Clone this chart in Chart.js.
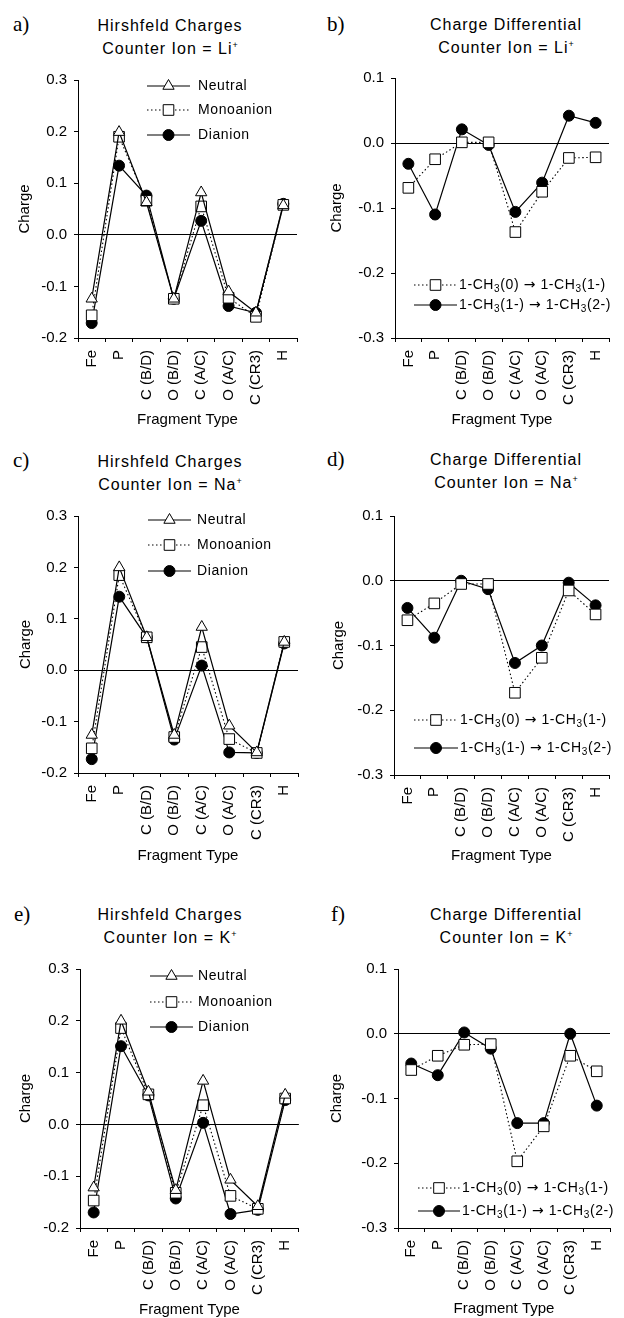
<!DOCTYPE html>
<html>
<head>
<meta charset="utf-8">
<script src="https://cdn.jsdelivr.net/npm/chart.js@4.4.1/dist/chart.umd.min.js"></script>
<style>
  html, body { margin: 0; padding: 0; background: #fff; overflow: hidden; }
  body { width: 624px; height: 1318px; position: relative; font-family: "Liberation Sans", Arial, sans-serif; color: #000; }
  canvas { position: absolute; }
  .tag { position: absolute; font-family: "Liberation Serif", "Times New Roman", serif; font-size: 21px; line-height: 20px; }
  .ttl { position: absolute; width: 260px; text-align: center; font-size: 16px; letter-spacing: 1px; line-height: 23px; }
  .ttl sup { font-size: 9px; vertical-align: 6px; line-height: 0; letter-spacing: 0; }
</style>
</head>
<body>
<div class="tag" style="left:13px;top:14px">a)</div>
<div class="tag" style="left:327px;top:14px">b)</div>
<div class="tag" style="left:13px;top:450px">c)</div>
<div class="tag" style="left:327px;top:449px">d)</div>
<div class="tag" style="left:14px;top:904px">e)</div>
<div class="tag" style="left:331px;top:904px">f)</div>

<div class="ttl" style="left:40px;top:14px">Hirshfeld Charges<br>Counter Ion = Li<sup>+</sup></div>
<div class="ttl" style="left:376px;top:13px">Charge Differential<br>Counter Ion = Li<sup>+</sup></div>
<div class="ttl" style="left:40px;top:450px">Hirshfeld Charges<br>Counter Ion = Na<sup>+</sup></div>
<div class="ttl" style="left:376px;top:448px">Charge Differential<br>Counter Ion = Na<sup>+</sup></div>
<div class="ttl" style="left:40px;top:903px">Hirshfeld Charges<br>Counter Ion = K<sup>+</sup></div>
<div class="ttl" style="left:376px;top:903px">Charge Differential<br>Counter Ion = K<sup>+</sup></div>

<canvas id="pa"></canvas>
<canvas id="pb"></canvas>
<canvas id="pc"></canvas>
<canvas id="pd"></canvas>
<canvas id="pe"></canvas>
<canvas id="pf"></canvas>

<script>
// ===== DATA =====
const fragments = ['Fe', 'P', 'C (B/D)', 'O (B/D)', 'C (A/C)', 'O (A/C)', 'C (CR3)', 'H'];
const chargeTicks = [-0.2, -0.1, 0.0, 0.1, 0.2, 0.3];
const diffTicks = [-0.3, -0.2, -0.1, 0.0, 0.1];
const hirshLabels = ['Neutral', 'Monoanion', 'Dianion'];
const diffLabels = ['1-CH_3(0) \u2192 1-CH_3(1-)', '1-CH_3(1-) \u2192 1-CH_3(2-)'];

// a) Li+
const neutralLi = [-0.124, 0.199, 0.063, -0.124, 0.082, -0.110, -0.151, 0.057];
const monoLi    = [-0.156, 0.190, 0.066, -0.124, 0.055, -0.122, -0.159, 0.058];
const dianLi    = [-0.171, 0.134, 0.076, -0.124, 0.027, -0.138, -0.151, 0.060];
// b) Li+ differential
const diffMonoLi = [-0.069, -0.025, 0.001, 0.001, -0.137, -0.075, -0.023, -0.022];
const diffDianLi = [-0.032, -0.110, 0.021, -0.003, -0.106, -0.061, 0.042, 0.031];
// c) Na+
const neutralNa = [-0.126, 0.200, 0.064, -0.126, 0.084, -0.108, -0.160, 0.055];
const monoNa    = [-0.152, 0.185, 0.064, -0.130, 0.045, -0.134, -0.161, 0.055];
const dianNa    = [-0.173, 0.143, 0.064, -0.135, 0.009, -0.160, -0.161, 0.052];
// d) Na+ differential
const diffMonoNa = [-0.061, -0.035, -0.005, -0.005, -0.173, -0.119, -0.015, -0.052];
const diffDianNa = [-0.042, -0.088, 0.000, -0.013, -0.127, -0.100, -0.003, -0.038];
// e) K+
const neutralK = [-0.122, 0.200, 0.063, -0.127, 0.084, -0.107, -0.158, 0.057];
const monoK    = [-0.147, 0.186, 0.058, -0.132, 0.037, -0.138, -0.163, 0.050];
const dianK    = [-0.170, 0.151, 0.056, -0.143, 0.003, -0.173, -0.165, 0.047];
// f) K+ differential
const diffMonoK = [-0.056, -0.034, -0.017, -0.016, -0.197, -0.143, -0.034, -0.058];
const diffDianK = [-0.046, -0.064, 0.002, -0.023, -0.138, -0.138, 0.000, -0.111];

// ===== STYLES =====
const FONT = '"Liberation Sans", Arial, sans-serif';
const triangleStyle = { pointStyle: 'triangle', pointRadius: 6.5, pointBackgroundColor: '#fff', borderDash: [] };
const squareStyle = { pointStyle: 'rect', pointRadius: 7.5, pointBackgroundColor: '#fff', borderDash: [1.5, 2.5] };
const dotStyle = { pointStyle: 'circle', pointRadius: 5.5, pointBackgroundColor: '#000', borderDash: [] };

function marker(ctx, style, r, x, y, fill) {
  ctx.beginPath();
  if (style === 'circle') {
    ctx.arc(x, y, r, 0, Math.PI * 2);
  } else if (style === 'rect') {
    const s = r * Math.SQRT1_2;
    ctx.rect(x - s, y - s, 2 * s, 2 * s);
  } else {
    let a = 0;
    ctx.moveTo(x + Math.sin(a) * r, y - Math.cos(a) * r);
    a += Math.PI * 2 / 3;
    ctx.lineTo(x + Math.sin(a) * r, y - Math.cos(a) * r);
    a += Math.PI * 2 / 3;
    ctx.lineTo(x + Math.sin(a) * r, y - Math.cos(a) * r);
    ctx.closePath();
  }
  ctx.fillStyle = fill;
  ctx.fill();
  ctx.lineWidth = 1;
  ctx.strokeStyle = '#000';
  ctx.stroke();
}

// text with "_x" subscripts; the arrow is drawn with DejaVu for a fuller glyph
function drawLabel(ctx, text, x, y) {
  ctx.textBaseline = 'middle';
  ctx.textAlign = 'left';
  ctx.fillStyle = '#000';
  if ('letterSpacing' in ctx) ctx.letterSpacing = '0.6px';
  text.split(/(_.|\u2192)/).forEach(p => {
    if (!p) return;
    let s = p, dy = 0;
    if (p[0] === '_') {
      ctx.font = '10px ' + FONT;
      s = p[1]; dy = 4;
    } else if (p === '\u2192') {
      ctx.font = '14px "DejaVu Sans", sans-serif';
    } else {
      ctx.font = '14px ' + FONT;
    }
    ctx.fillText(s, x, y + dy);
    x += ctx.measureText(s).width;
  });
}

const lineLegend = {
  id: 'lineLegend',
  afterDatasetsDraw(chart, args, opts) {
    if (!opts.rows) return;
    const ctx = chart.ctx;
    ctx.save();
    chart.data.datasets.forEach((ds, i) => {
      const y = opts.rows[i];
      ctx.strokeStyle = '#000';
      ctx.lineWidth = ds.borderWidth;
      ctx.setLineDash(ds.borderDash);
      ctx.beginPath();
      ctx.moveTo(opts.x0, y);
      ctx.lineTo(opts.x1, y);
      ctx.stroke();
      ctx.setLineDash([]);
      marker(ctx, ds.pointStyle, ds.pointRadius, (opts.x0 + opts.x1) / 2, y, ds.pointBackgroundColor);
      drawLabel(ctx, ds.label, opts.tx, y);
    });
    ctx.restore();
  }
};

function makePanel(id, p) {
  const [cl, ct, cw, ch] = p.box;
  const [L, R, T, B] = p.area;
  const yBoxLeft = p.chargeX - 7.5;
  const yWidth = L - yBoxLeft;
  const xHeight = (p.fragY + 7.5) - B;
  const canvas = document.getElementById(id);
  canvas.width = cw; canvas.height = ch;
  canvas.style.left = cl + 'px'; canvas.style.top = ct + 'px';

  const datasets = p.series.map((data, i) => ({
    label: p.labels[i],
    data: data,
    borderColor: '#000',
    borderWidth: p.styles[i].borderDash.length ? 1.1 : 1.2,
    pointBorderColor: '#000',
    pointBorderWidth: 1,
    pointHoverRadius: p.styles[i].pointRadius,
    clip: false,
    tension: 0,
    ...p.styles[i]
  }));

  new Chart(canvas, {
    type: 'line',
    data: { labels: fragments, datasets },
    plugins: [lineLegend],
    options: {
      responsive: false,
      animation: false,
      layout: { padding: { left: yBoxLeft - cl, top: T - ct, right: cl + cw - R, bottom: ct + ch - (p.fragY + 7.5) } },
      plugins: {
        legend: { display: false },
        tooltip: { enabled: false },
        lineLegend: {
          x0: p.legend.x0 - cl, x1: p.legend.x1 - cl, tx: p.legend.tx - cl,
          rows: p.legend.rows.map(y => y - ct)
        }
      },
      scales: {
        x: {
          type: 'category',
          offset: true,
          afterFit: s => { s.height = xHeight; },
          grid: { offset: true, drawOnChartArea: false, tickLength: 4, tickColor: '#000' },
          border: { display: true, color: '#000', width: 1 },
          ticks: { autoSkip: false, minRotation: 90, maxRotation: 90, padding: 8, color: '#000', font: { family: FONT, size: 15 } },
          title: { display: true, text: 'Fragment Type', color: '#000', padding: 0, font: { family: FONT, size: 15, lineHeight: 1 } }
        },
        y: {
          min: p.ticks[0],
          max: p.ticks[p.ticks.length - 1],
          afterFit: s => { s.width = yWidth; },
          grid: {
            color: c => Math.abs(c.tick.value) < 1e-9 ? '#000' : 'rgba(0,0,0,0)',
            tickColor: '#000', tickLength: 4
          },
          border: { display: true, color: '#000', width: 1 },
          ticks: { stepSize: 0.1, padding: 7, color: '#000', font: { family: FONT, size: 15 }, callback: v => v.toFixed(1) },
          title: { display: true, text: 'Charge', color: '#000', padding: 0, font: { family: FONT, size: 15, lineHeight: 1 } }
        }
      }
    }
  });
}

const hirshStyles = [triangleStyle, squareStyle, dotStyle];
const diffStyles = [squareStyle, dotStyle];

makePanel('pa', { box: [0, 0, 312, 436], area: [78, 297, 80, 338], chargeX: 25, fragY: 420, ticks: chargeTicks,
  series: [neutralLi, monoLi, dianLi], labels: hirshLabels, styles: hirshStyles,
  legend: { x0: 147, x1: 190, tx: 198, rows: [86, 110, 135] } });
makePanel('pb', { box: [312, 0, 312, 436], area: [395, 609, 78, 338], chargeX: 337, fragY: 420, ticks: diffTicks,
  series: [diffMonoLi, diffDianLi], labels: diffLabels, styles: diffStyles,
  legend: { x0: 414, x1: 457, tx: 459, rows: [285, 305] } });
makePanel('pc', { box: [0, 436, 312, 446], area: [78, 298, 516, 773], chargeX: 26, fragY: 856, ticks: chargeTicks,
  series: [neutralNa, monoNa, dianNa], labels: hirshLabels, styles: hirshStyles,
  legend: { x0: 148, x1: 191, tx: 197, rows: [520, 545, 571] } });
makePanel('pd', { box: [312, 436, 312, 446], area: [394, 609, 516, 775], chargeX: 339, fragY: 856, ticks: diffTicks,
  series: [diffMonoNa, diffDianNa], labels: diffLabels, styles: diffStyles,
  legend: { x0: 414, x1: 458, tx: 460, rows: [720, 748] } });
makePanel('pe', { box: [0, 882, 312, 436], area: [80, 299, 969, 1228], chargeX: 26, fragY: 1310, ticks: chargeTicks,
  series: [neutralK, monoK, dianK], labels: hirshLabels, styles: hirshStyles,
  legend: { x0: 150, x1: 193, tx: 198, rows: [976, 1002, 1027] } });
makePanel('pf', { box: [312, 882, 312, 436], area: [398, 610, 969, 1228], chargeX: 337, fragY: 1309, ticks: diffTicks,
  series: [diffMonoK, diffDianK], labels: diffLabels, styles: diffStyles,
  legend: { x0: 418, x1: 460, tx: 462, rows: [1188, 1211] } });
</script>
</body>
</html>
